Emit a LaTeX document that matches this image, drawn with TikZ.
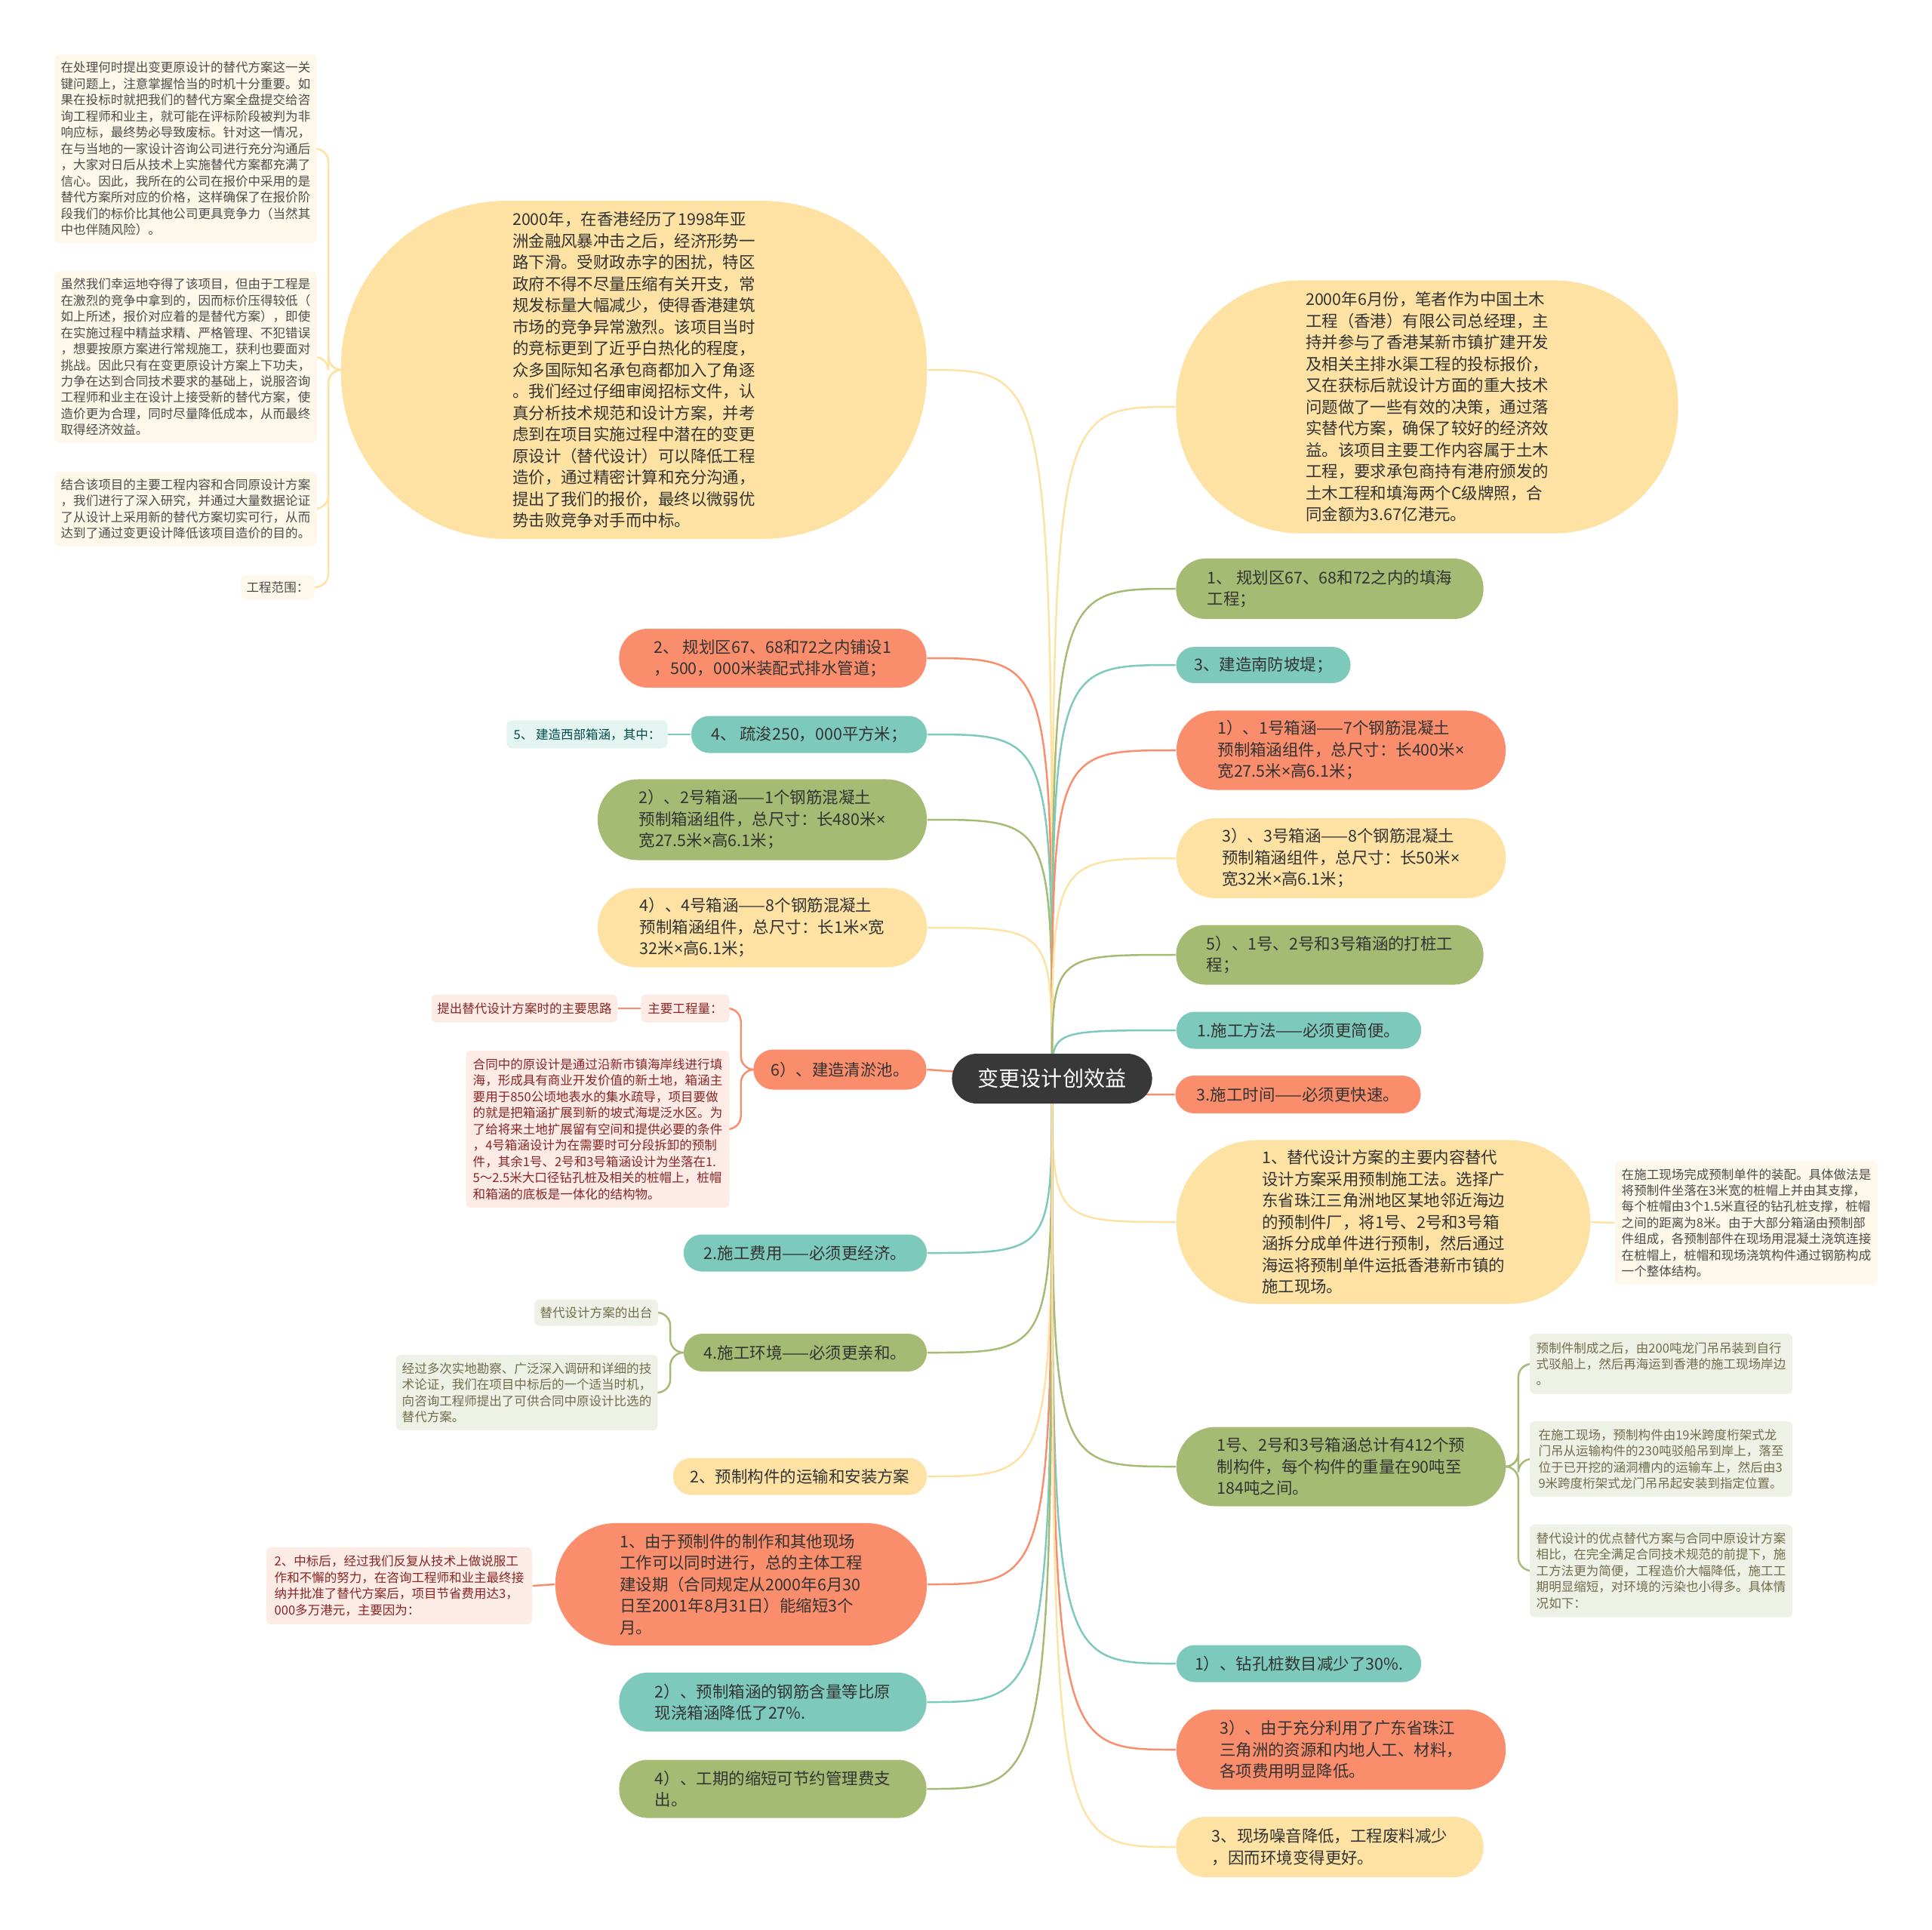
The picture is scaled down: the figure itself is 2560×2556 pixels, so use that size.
\documentclass[tikz,border=0pt]{standalone}
\usepackage{fontspec}
\setmainfont{Noto Sans CJK SC}
\newfontfamily\lat{Noto Sans}
\usetikzlibrary{backgrounds}
\definecolor{cY}{HTML}{FDE2A4}\definecolor{cR}{HTML}{F98D6C}\definecolor{cT}{HTML}{7DC9BB}\definecolor{cG}{HTML}{A5BB73}
\definecolor{lY}{HTML}{FDF8E9}\definecolor{lR}{HTML}{FDEBE5}\definecolor{lT}{HTML}{E4F4F0}\definecolor{lG}{HTML}{EEF1E6}
\definecolor{tx}{HTML}{333333}\definecolor{hub}{HTML}{383838}
\newcommand{\fm}{\fontsize{6.1pt}{8.1pt}\selectfont}
\newcommand{\fs}{\fontsize{4.7pt}{6.1pt}\selectfont}
\newcommand{\mul}{{\lat ×}}

\begin{document}
\begin{tikzpicture}[x=0.01cm,y=-0.01cm,every node/.style={inner sep=0pt,align=left,font=\fm,text=tx},
pill/.style={rounded corners=#1},nY/.style={fill=cY},nR/.style={fill=cR},nT/.style={fill=cT},nG/.style={fill=cG},
sb/.style={rounded corners=2pt,font=\fs},sY/.style={sb,fill=lY,text=black!70},sR/.style={sb,fill=lR,text=red!45!black!85},
sT/.style={sb,fill=lT,text=teal!60!black},sG/.style={sb,fill=lG,text=olive!40!black!80},lk/.style={draw=#1,line width=0.7pt}]
\useasboundingbox(0,0)rectangle(2560,2556);
\node[fill=hub,text=white,pill=0.33cm,minimum width=2.65cm,minimum height=0.66cm,font=\fontsize{8pt}{10pt}\selectfont](c)at(1394,1429){变更设计创效益};
% left side
\node[nY,pill=2.2cm,minimum width=7.76cm,minimum height=4.48cm](t0)at(840,490){2000年，在香港经历了1998年亚\\洲金融风暴冲击之后，经济形势一\\路下滑。受财政赤字的困扰，特区\\政府不得不尽量压缩有关开支，常\\规发标量大幅减少，使得香港建筑\\市场的竞争异常激烈。该项目当时\\的竞标更到了近乎白热化的程度，\\众多国际知名承包商都加入了角逐\\。我们经过仔细审阅招标文件，认\\真分析技术规范和设计方案，并考\\虑到在项目实施过程中潜在的变更\\原设计（替代设计）可以降低工程\\造价，通过精密计算和充分沟通，\\提出了我们的报价，最终以微弱优\\势击败竞争对手而中标。};
\node[sY,minimum width=3.47cm,minimum height=2.5cm](a0)at(246,197){在处理何时提出变更原设计的替代方案这一关\\键问题上，注意掌握恰当的时机十分重要。如\\果在投标时就把我们的替代方案全盘提交给咨\\询工程师和业主，就可能在评标阶段被判为非\\响应标，最终势必导致废标。针对这一情况，\\在与当地的一家设计咨询公司进行充分沟通后\\，大家对日后从技术上实施替代方案都充满了\\信心。因此，我所在的公司在报价中采用的是\\替代方案所对应的价格，这样确保了在报价阶\\段我们的标价比其他公司更具竞争力（当然其\\中也伴随风险）。};
\node[sY,minimum width=3.48cm,minimum height=2.27cm](a1)at(246,473){虽然我们幸运地夺得了该项目，但由于工程是\\在激烈的竞争中拿到的，因而标价压得较低（\\如上所述，报价对应着的是替代方案），即使\\在实施过程中精益求精、严格管理、不犯错误\\，想要按原方案进行常规施工，获利也要面对\\挑战。因此只有在变更原设计方案上下功夫，\\力争在达到合同技术要求的基础上，说服咨询\\工程师和业主在设计上接受新的替代方案，使\\造价更为合理，同时尽量降低成本，从而最终\\取得经济效益。};
\node[sY,minimum width=3.48cm,minimum height=0.98cm](a2)at(246,674){结合该项目的主要工程内容和合同原设计方案\\，我们进行了深入研究，并通过大量数据论证\\了从设计上采用新的替代方案切实可行，从而\\达到了通过变更设计降低该项目造价的目的。};
\node[sY,minimum width=0.97cm,minimum height=0.33cm](a3)at(368,778){工程范围：};
\node[nR,pill=0.38cm,minimum width=4.07cm,minimum height=0.78cm](L1)at(1024,872){2、 规划区67、68和72之内铺设1\\，500，000米装配式排水管道；};
\node[nT,pill=0.24cm,minimum width=3.12cm,minimum height=0.49cm](L2)at(1072,973){4、 疏浚250，000平方米；};
\node[sT,minimum width=2.13cm,minimum height=0.37cm](L2a)at(778,973){5、 建造西部箱涵，其中：};
\node[nG,pill=0.53cm,minimum width=4.36cm,minimum height=1.07cm](L3)at(1010,1086){2）、2号箱涵——1个钢筋混凝土\\预制箱涵组件，总尺寸：长480米\mul\\宽27.5米\mul 高6.1米；};
\node[nY,pill=0.52cm,minimum width=4.36cm,minimum height=1.05cm](L4)at(1010,1229){4）、4号箱涵——8个钢筋混凝土\\预制箱涵组件，总尺寸：长1米\mul 宽\\32米\mul 高6.1米；};
\node[nR,pill=0.26cm,minimum width=2.29cm,minimum height=0.53cm](L5)at(1113,1417){6）、建造清淤池。};
\node[sR,minimum width=1.17cm,minimum height=0.37cm](L5a)at(908,1336){主要工程量：};
\node[sR,minimum width=2.46cm,minimum height=0.37cm](L5b)at(695,1336){提出替代设计方案时的主要思路};
\node[sR,minimum width=3.49cm,minimum height=2.08cm](L5c)at(792,1496){合同中的原设计是通过沿新市镇海岸线进行填\\海，形成具有商业开发价值的新土地，箱涵主\\要用于850公顷地表水的集水疏导，项目要做\\的就是把箱涵扩展到新的坡式海堤泛水区。为\\了给将来土地扩展留有空间和提供必要的条件\\，4号箱涵设计为在需要时可分段拆卸的预制\\件，其余1号、2号和3号箱涵设计为坐落在1.\\5～2.5米大口径钻孔桩及相关的桩帽上，桩帽\\和箱涵的底板是一体化的结构物。};
\node[nT,pill=0.24cm,minimum width=3.22cm,minimum height=0.49cm](L6)at(1067,1660){2.施工费用——必须更经济。};
\node[nG,pill=0.25cm,minimum width=3.22cm,minimum height=0.5cm](L7)at(1067,1792){4.施工环境——必须更亲和。};
\node[sG,minimum width=1.64cm,minimum height=0.35cm](L7a)at(790,1739){替代设计方案的出台};
\node[sG,minimum width=3.47cm,minimum height=1cm](L7b)at(698,1845){经过多次实地勘察、广泛深入调研和详细的技\\术论证，我们在项目中标后的一个适当时机，\\向咨询工程师提出了可供合同中原设计比选的\\替代方案。};
\node[nY,pill=0.24cm,minimum width=3.36cm,minimum height=0.49cm](L8)at(1060,1956){2、预制构件的运输和安装方案};
\node[nR,pill=0.8cm,minimum width=4.92cm,minimum height=1.62cm](L9)at(982,2099){1、由于预制件的制作和其他现场\\工作可以同时进行，总的主体工程\\建设期（合同规定从2000年6月30\\日至2001年8月31日）能缩短3个\\月。};
\node[sR,minimum width=3.52cm,minimum height=1.02cm](L9a)at(529,2101){2、中标后，经过我们反复从技术上做说服工\\作和不懈的努力，在咨询工程师和业主最终接\\纳并批准了替代方案后，项目节省费用达3，\\000多万港元，主要因为：};
\node[nT,pill=0.38cm,minimum width=4.07cm,minimum height=0.78cm](L10)at(1024,2255){2）、预制箱涵的钢筋含量等比原\\现浇箱涵降低了27\%.};
\node[nG,pill=0.38cm,minimum width=4.07cm,minimum height=0.77cm](L11)at(1024,2370){4）、工期的缩短可节约管理费支\\出。};
% right side
\node[nY,pill=1.65cm,minimum width=6.65cm,minimum height=3.35cm](R1)at(1891,539){2000年6月份，笔者作为中国土木\\工程（香港）有限公司总经理，主\\持并参与了香港某新市镇扩建开发\\及相关主排水渠工程的投标报价，\\又在获标后就设计方面的重大技术\\问题做了一些有效的决策，通过落\\实替代方案，确保了较好的经济效\\益。该项目主要工作内容属于土木\\工程，要求承包商持有港府颁发的\\土木工程和填海两个C级牌照，合\\同金额为3.67亿港元。};
\node[nG,pill=0.39cm,minimum width=4.07cm,minimum height=0.8cm](R2)at(1762,780){1、 规划区67、68和72之内的填海\\工程；};
\node[nT,pill=0.24cm,minimum width=2.31cm,minimum height=0.48cm](R3)at(1674,881){3、建造南防坡堤；};
\node[nR,pill=0.52cm,minimum width=4.36cm,minimum height=1.05cm](R4)at(1777,994){1）、1号箱涵——7个钢筋混凝土\\预制箱涵组件，总尺寸：长400米\mul\\宽27.5米\mul 高6.1米；};
\node[nY,pill=0.52cm,minimum width=4.36cm,minimum height=1.06cm](R5)at(1777,1137){3）、3号箱涵——8个钢筋混凝土\\预制箱涵组件，总尺寸：长50米\mul\\宽32米\mul 高6.1米；};
\node[nG,pill=0.39cm,minimum width=4.07cm,minimum height=0.79cm](R6)at(1762,1265){5）、1号、2号和3号箱涵的打桩工\\程；};
\node[nT,pill=0.24cm,minimum width=3.24cm,minimum height=0.49cm](R7)at(1721,1365){1.施工方法——必须更简便。};
\node[nR,pill=0.25cm,minimum width=3.25cm,minimum height=0.5cm](R8)at(1720,1450){3.施工时间——必须更快速。};
\node[nY,pill=1.07cm,minimum width=5.48cm,minimum height=2.17cm](R9)at(1833,1619){1、替代设计方案的主要内容替代\\设计方案采用预制施工法。选择广\\东省珠江三角洲地区某地邻近海边\\的预制件厂，将1号、2号和3号箱\\涵拆分成单件进行预制，然后通过\\海运将预制单件运抵香港新市镇的\\施工现场。};
\node[sY,minimum width=3.48cm,minimum height=1.64cm](R9a)at(2314,1620){在施工现场完成预制单件的装配。具体做法是\\将预制件坐落在3米宽的桩帽上并由其支撑，\\每个桩帽由3个1.5米直径的钻孔桩支撑，桩帽\\之间的距离为8米。由于大部分箱涵由预制部\\件组成，各预制部件在现场用混凝土浇筑连接\\在桩帽上，桩帽和现场浇筑构件通过钢筋构成\\一个整体结构。};
\node[nG,pill=0.52cm,minimum width=4.36cm,minimum height=1.05cm](R10)at(1777,1943){1号、2号和3号箱涵总计有412个预\\制构件，每个构件的重量在90吨至\\184吨之间。};
\node[sG,minimum width=3.48cm,minimum height=0.8cm](R10a)at(2201,1807){预制件制成之后，由200吨龙门吊吊装到自行\\式驳船上，然后再海运到香港的施工现场岸边\\。};
\node[sG,minimum width=3.48cm,minimum height=1cm](R10b)at(2201,1933){在施工现场，预制构件由19米跨度桁架式龙\\门吊从运输构件的230吨驳船吊到岸上，落至\\位于已开挖的涵洞槽内的运输车上，然后由3\\9米跨度桁架式龙门吊吊起安装到指定位置。};
\node[sG,minimum width=3.48cm,minimum height=1.23cm](R10c)at(2201,2081){替代设计的优点替代方案与合同中原设计方案\\相比，在完全满足合同技术规范的前提下，施\\工方法更为简便，工程造价大幅降低，施工工\\期明显缩短，对环境的污染也小得多。具体情\\况如下：};
\node[nT,pill=0.24cm,minimum width=3.24cm,minimum height=0.49cm](R11)at(1721,2204){1）、钻孔桩数目减少了30\%.};
\node[nR,pill=0.52cm,minimum width=4.36cm,minimum height=1.06cm](R12)at(1777,2318){3）、由于充分利用了广东省珠江\\三角洲的资源和内地人工、材料，\\各项费用明显降低。};
\node[nY,pill=0.39cm,minimum width=4.07cm,minimum height=0.8cm](R13)at(1762,2447){3、现场噪音降低，工程废料减少\\，因而环境变得更好。};
\begin{scope}[on background layer]
\draw[lk=cY](c.center)..controls(c.center|-t0.east)..(t0.east);\draw[lk=cR](c.center)..controls(c.center|-L1.east)..(L1.east);
\draw[lk=cT](c.center)..controls(c.center|-L2.east)..(L2.east);\draw[lk=cG](c.center)..controls(c.center|-L3.east)..(L3.east);
\draw[lk=cY](c.center)..controls(c.center|-L4.east)..(L4.east);\draw[lk=cR](c.center)--(L5.east);
\draw[lk=cT](c.center)..controls(c.center|-L6.east)..(L6.east);\draw[lk=cG](c.center)..controls(c.center|-L7.east)..(L7.east);
\draw[lk=cY](c.center)..controls(c.center|-L8.east)..(L8.east);\draw[lk=cR](c.center)..controls(c.center|-L9.east)..(L9.east);
\draw[lk=cT](c.center)..controls(c.center|-L10.east)..(L10.east);\draw[lk=cG](c.center)..controls(c.center|-L11.east)..(L11.east);
\draw[lk=cY](c.center)..controls(c.center|-R1.west)..(R1.west);\draw[lk=cG](c.center)..controls(c.center|-R2.west)..(R2.west);
\draw[lk=cT](c.center)..controls(c.center|-R3.west)..(R3.west);\draw[lk=cR](c.center)..controls(c.center|-R4.west)..(R4.west);
\draw[lk=cY](c.center)..controls(c.center|-R5.west)..(R5.west);\draw[lk=cG](c.center)..controls(c.center|-R6.west)..(R6.west);
\draw[lk=cT](c.center)..controls(c.center|-R7.west)..(R7.west);\draw[lk=cR](c.center)..controls(c.center|-R8.west)..(R8.west);
\draw[lk=cY](c.center)..controls(c.center|-R9.west)..(R9.west);\draw[lk=cG](c.center)..controls(c.center|-R10.west)..(R10.west);
\draw[lk=cT](c.center)..controls(c.center|-R11.west)..(R11.west);\draw[lk=cR](c.center)..controls(c.center|-R12.west)..(R12.west);
\draw[lk=cY](c.center)..controls(c.center|-R13.west)..(R13.west);
% children
\draw[lk=cY,rounded corners=5pt](t0.west)--++(-16,0)|-(a0.east);\draw[lk=cY,rounded corners=5pt](t0.west)--++(-16,0)|-(a1.east);
\draw[lk=cY,rounded corners=5pt](t0.west)--++(-16,0)|-(a2.east);\draw[lk=cY,rounded corners=5pt](t0.west)--++(-16,0)|-(a3.east);
\draw[lk=cT](L2.west)--(L2a.east);\draw[lk=cR](L5a.west)--(L5b.east);
\draw[lk=cR,rounded corners=5pt](L5.west)--++(-16,0)|-(L5a.east);\draw[lk=cR,rounded corners=5pt](L5.west)--++(-16,0)|-(L5c.east);
\draw[lk=cG,rounded corners=5pt](L7.west)--++(-17,0)|-(L7a.east);\draw[lk=cG,rounded corners=5pt](L7.west)--++(-17,0)|-(L7b.east);
\draw[lk=cR](L9.west)--(L9a.east);\draw[lk=cY](R9.east)--(R9a.west);
\draw[lk=cG,rounded corners=5pt](R10.east)--++(16,0)|-(R10a.west);\draw[lk=cG,rounded corners=5pt](R10.east)--++(16,0)|-(R10b.west);
\draw[lk=cG,rounded corners=5pt](R10.east)--++(16,0)|-(R10c.west);
\end{scope}
\end{tikzpicture}
\end{document}
